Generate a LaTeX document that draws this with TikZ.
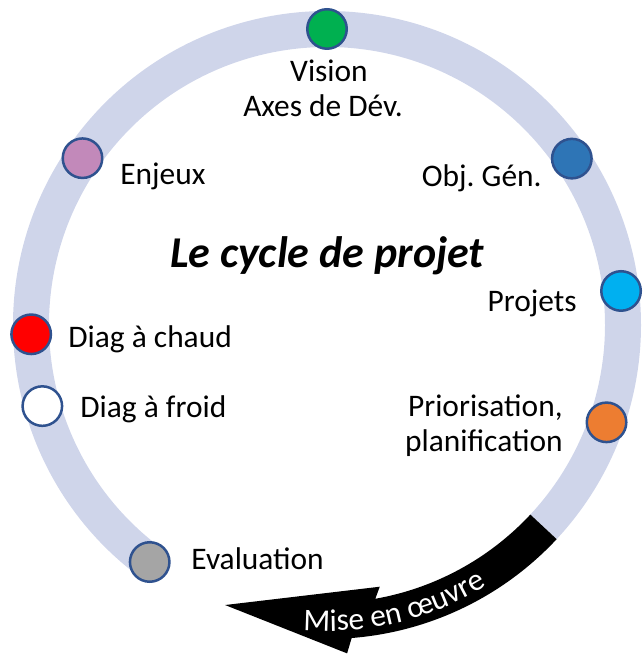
\documentclass[tikz,border=0pt]{standalone}
\usepackage{fontspec}
\setmainfont{Carlito}
\usetikzlibrary{calc, decorations.text}
\definecolor{anneaucol}{RGB}{207,213,234}
\definecolor{bordcol}{RGB}{47,82,143}
\definecolor{vertcol}{RGB}{0,176,80}
\definecolor{bleucol}{RGB}{46,117,182}
\definecolor{cyancol}{RGB}{0,176,240}
\definecolor{orangecol}{RGB}{237,125,49}
\definecolor{rosecol}{RGB}{194,137,186}
\definecolor{grisecol}{RGB}{165,165,165}
\frenchspacing
\tikzset{x=0.5pt, y=0.5pt,
anneau/.style={draw=anneaucol, line width=18pt},
etape/.style={circle, draw=bordcol, line width=1.25pt, minimum size=19.75pt, inner sep=0pt},
lbl/.style={inner sep=0pt, font=\fontsize{15.7}{18}\selectfont},
titre/.style={inner sep=0pt, anchor=base, font=\fontsize{22}{26}\selectfont\bfseries\itshape},
}

\begin{document}
\begin{tikzpicture}
\useasboundingbox (0,0) rectangle (643,656);
\coordinate (C) at (327,331);

    % anneau + fleche
    \draw[anneau] ($(C)+(233.2:296)$) arc[start angle=233.2, end angle=-43, radius=296];
    \fill[black] ($(C)+(-43:278)$) arc[start angle=-43, end angle=-80, radius=278]
        -- ($(C)+(-78.6:267)$) -- ($(C)+(-110:298)$) -- ($(C)+(-86.5:329)$)
        -- ($(C)+(-85.5:314)$) arc[start angle=-85.5, end angle=-43, radius=314] -- cycle;
    \path[decorate, decoration={text along path, text align=center,
        text={|\fontsize{15.7}{18}\selectfont\color{white}|Mise en œuvre}}]
        ($(C)+(-97:306)$) arc[start angle=-97, end angle=-56, radius=306];

    \node[etape, fill=vertcol] (vision) at ($(C)+(90:296)$) {};
    \node[etape, fill=bleucol] (objgen) at ($(C)+(34.2:296)$) {};
    \node[etape, fill=cyancol] (projets) at ($(C)+(6.6:296)$) {};
    \node[etape, fill=orangecol] (priorisation) at ($(C)+(-19.2:296)$) {};
    \node[etape, fill=rosecol] (enjeux) at ($(C)+(145.7:296)$) {};
    \node[etape, fill=red] (chaud) at ($(C)+(181.8:296)$) {};
    \node[etape, fill=white] (froid) at ($(C)+(195.9:296)$) {};
    \node[etape, fill=grisecol] (evaluation) at ($(C)+(233.2:296)$) {};

    \node[titre] (cycle) at (327,388) {Le cycle de projet};
    \node[lbl, anchor=base] (tvision) at (329,574) {Vision};
    \node[lbl, anchor=base] (taxes) at (323,539) {Axes de Dév.};
    \node[lbl, anchor=base east] (tobjgen) at (542,469) {Obj. Gén.};
    \node[lbl, anchor=base east] (tprojets) at (577,344) {Projets};
    \node[lbl, anchor=base east] (tprio) at (563,239) {Priorisation,};
    \node[lbl, anchor=base east] (tplanif) at (563,204) {planification};
    \node[lbl, anchor=base west] (tenjeux) at (120,471) {Enjeux};
    \node[lbl, anchor=base west] (tchaud) at (68,308) {Diag à chaud};
    \node[lbl, anchor=base west] (tfroid) at (80,238) {Diag à froid};
    \node[lbl, anchor=base west] (tevaluation) at (191,86) {Evaluation};
\end{tikzpicture}
\end{document}
